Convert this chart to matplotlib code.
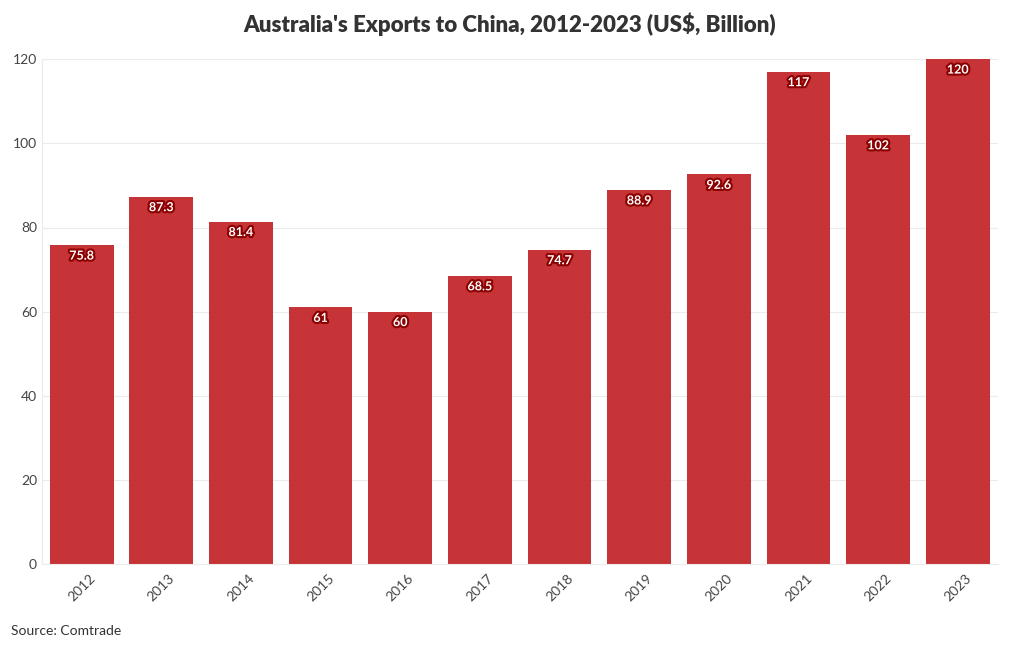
import matplotlib.pyplot as plt
import matplotlib.patheffects as pe

years = ['2012', '2013', '2014', '2015', '2016', '2017', '2018', '2019', '2020', '2021', '2022', '2023']
exports = [75.8, 87.3, 81.4, 61, 60, 68.5, 74.7, 88.9, 92.6, 117, 102, 120]
labels = ['75.8', '87.3', '81.4', '61', '60', '68.5', '74.7', '88.9', '92.6', '117', '102', '120']

plt.rcParams['font.family'] = ['Lato', 'DejaVu Sans']

fig = plt.figure(figsize=(10.2, 6.5), dpi=100)
ax = fig.add_axes([0.041, 0.132, 0.937, 0.777])

x = range(len(years))
bars = ax.bar(x, exports, width=0.8, color='#c4292c', alpha=0.95, zorder=2)

# value labels just under the top of each bar
for i, v in enumerate(exports):
    ax.annotate(labels[i], (i, v), xytext=(0, -7.5), textcoords='offset points',
                ha='center', va='center', fontsize=9, fontweight='bold', color='white',
                path_effects=[pe.withStroke(linewidth=3, foreground='#8b0000')], zorder=3)

ax.set_xlim(-0.5, len(years) - 0.5)
ax.set_ylim(0, 120)
ax.set_yticks([0, 20, 40, 60, 80, 100, 120])
ax.set_xticks(list(x))
ax.set_xticklabels(years, rotation=45, ha='center')
ax.tick_params(axis='both', length=0, colors='#444444', labelsize=10)
ax.tick_params(axis='x', pad=6)

ax.grid(axis='y', color='#ebebeb', linewidth=0.8, zorder=0)
for side in ['top', 'right']:
    ax.spines[side].set_visible(False)
ax.spines['left'].set_color('#ebebeb')
ax.spines['bottom'].set_color('#ebebeb')

fig.text(0.5, 0.962, "Australia's Exports to China, 2012-2023 (US$, Billion)",
         ha='center', va='center', fontsize=16, fontweight='heavy', color='#333333')
fig.text(0.011, 0.029, 'Source: Comtrade', ha='left', va='center', fontsize=10, color='#333333')

fig.savefig('out.png', dpi=100)
